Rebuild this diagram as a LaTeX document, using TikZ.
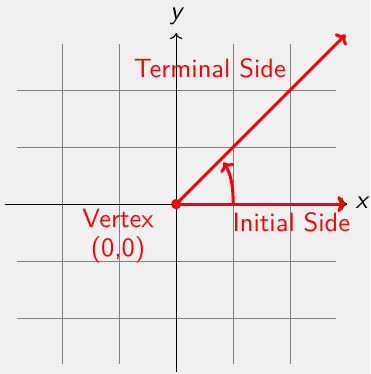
\documentclass[tikz,border=0pt]{standalone}
\usetikzlibrary{arrows.meta}
\begin{document}
\begin{tikzpicture}[
  gridline/.style={draw=black!50, line width=0.45pt},
  axis/.style={draw=black, line width=0.55pt, -{To[length=3pt]}},
  redray/.style={draw=red, line width=1.5pt, -{To[length=4pt,width=8pt]}},
  redlabel/.style={text=red, font=\sffamily, scale=1.32, transform shape, inner sep=0pt, align=center},
  axlabel/.style={text=black, font=\sffamily\slshape, scale=1.3, transform shape, inner sep=0pt}
]
\fill[black!6] (-3.09,-2.98) rectangle (3.40,3.58);
\useasboundingbox (-3.09,-2.98) rectangle (3.40,3.58);
% grid
\foreach \v in {-2,-1,0,1,2} {
  \draw[gridline] (\v,-2.8) -- (\v,2.8);
  \draw[gridline] (-2.8,\v) -- (2.8,\v);
}
% axes
\coordinate (O) at (0,0);
\coordinate (xs) at (-3,0);
\coordinate (xe) at (3,0);
\coordinate (ys) at (0,-2.95);
\coordinate (ye) at (0,3);
\draw[axis] (xs) -- (xe);
\draw[axis] (ys) -- (ye);
\node[axlabel, anchor=west] (xl) at (3.14,0.02) {x};
\node[axlabel] (yl) at (0,3.3) {y};
% rays
\coordinate (T) at (2.97,2.97);
\coordinate (I) at (2.97,0);
\draw[redray] (O) -- (T);
\draw[redray] (O) -- (I);
% angle arc
\coordinate (A0) at (1,0);
\coordinate (A1) at (0.83,0.73);
\draw[redray] (A0) .. controls (1,0.35) and (0.95,0.55) .. (A1);
% vertex dot
\fill[red] (O) circle (0.09);
% labels
\node[redlabel] (term) at (0.59,2.38) {Terminal Side};
\node[redlabel] (init) at (2.02,-0.32) {Initial Side};
\node[redlabel] (vert) at (-1.02,-0.56) {Vertex\\[-1pt](0,0)};
\end{tikzpicture}
\end{document}
